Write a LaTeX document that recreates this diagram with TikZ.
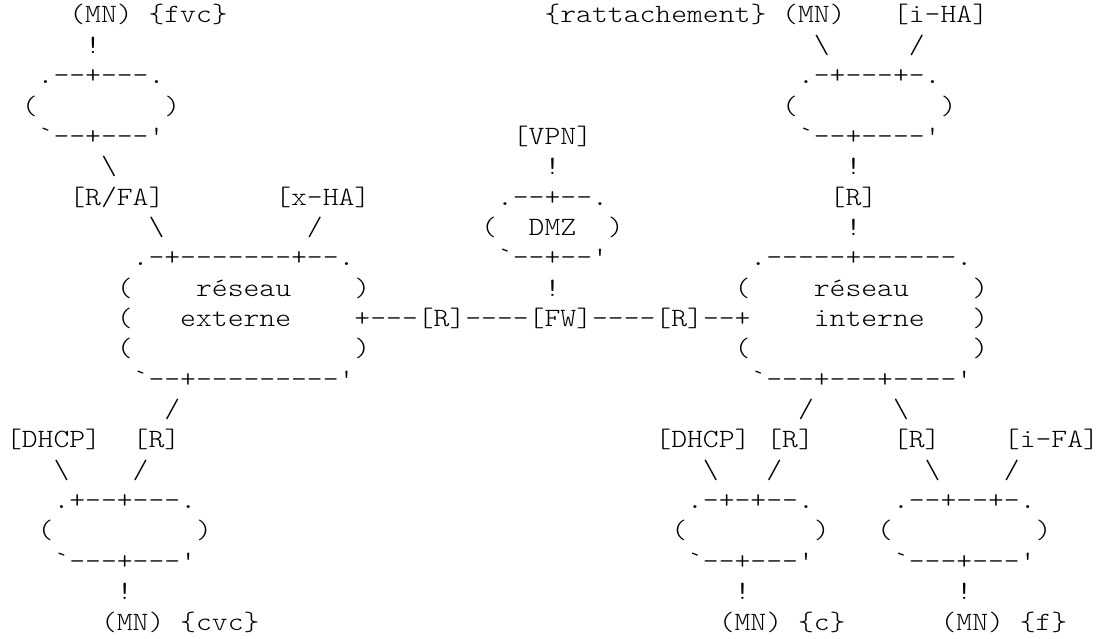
\documentclass[tikz,border=0pt]{standalone}
\usepackage{fontspec}
\setmonofont{lmmonolt10-regular.otf}[FakeStretch=1.143]
\tikzset{tok/.style={anchor=base west, inner sep=0pt, outer sep=0pt, text=black,
  font=\ttfamily\fontsize{26.4}{30}\selectfont}}
\newcommand\cw{15.84}
\newcommand\rh{30.35}
\newcommand\tk[3]{\node[tok] (t#1-#2) at ({6+#2*\cw},{-23-#1*\rh}) {#3};}
\newcommand\bs{\textbackslash}
\begin{document}
\begin{tikzpicture}[x=1pt,y=1pt]
\useasboundingbox (0,0) rectangle (1106,-639);
\fill[white] (0,0) rectangle (1106,-639);
% row 0
\tk{0}{4}{(MN)}\tk{0}{9}{\{fvc\}}\tk{0}{34}{\{rattachement\}}\tk{0}{49}{(MN)}\tk{0}{56}{[i-HA]}
% row 1
\tk{1}{5}{!}\tk{1}{51}{\bs}\tk{1}{57}{/}
% row 2
\tk{2}{2}{.--+---.}\tk{2}{50}{.-+---+-.}
% row 3
\tk{3}{1}{(}\tk{3}{10}{)}\tk{3}{49}{(}\tk{3}{59}{)}
% row 4
\tk{4}{2}{`--+---'}\tk{4}{32}{[VPN]}\tk{4}{50}{`--+----'}
% row 5
\tk{5}{6}{\bs}\tk{5}{34}{!}\tk{5}{53}{!}
% row 6
\tk{6}{4}{[R/FA]}\tk{6}{17}{[x-HA]}\tk{6}{31}{.--+--.}\tk{6}{52}{[R]}
% row 7
\tk{7}{9}{\bs}\tk{7}{19}{/}\tk{7}{30}{(}\tk{7}{33}{DMZ}\tk{7}{38}{)}\tk{7}{53}{!}
% row 8
\tk{8}{8}{.-+-------+--.}\tk{8}{31}{`--+--'}\tk{8}{47}{.-----+------.}
% row 9
\tk{9}{7}{(}\tk{9}{12}{réseau}\tk{9}{22}{)}\tk{9}{34}{!}\tk{9}{46}{(}\tk{9}{51}{réseau}\tk{9}{61}{)}
% row 10
\tk{10}{7}{(}\tk{10}{11}{externe}\tk{10}{22}{+---[R]----[FW]----[R]--+}\tk{10}{51}{interne}\tk{10}{61}{)}
% row 11
\tk{11}{7}{(}\tk{11}{22}{)}\tk{11}{46}{(}\tk{11}{61}{)}
% row 12
\tk{12}{8}{`--+---------'}\tk{12}{47}{`---+---+----'}
% row 13
\tk{13}{10}{/}\tk{13}{50}{/}\tk{13}{56}{\bs}
% row 14
\tk{14}{0}{[DHCP]}\tk{14}{8}{[R]}\tk{14}{41}{[DHCP]}\tk{14}{48}{[R]}\tk{14}{56}{[R]}\tk{14}{63}{[i-FA]}
% row 15
\tk{15}{3}{\bs}\tk{15}{8}{/}\tk{15}{44}{\bs}\tk{15}{48}{/}\tk{15}{58}{\bs}\tk{15}{63}{/}
% row 16
\tk{16}{3}{.+--+---.}\tk{16}{43}{.-+-+--.}\tk{16}{56}{.--+--+-.}
% row 17
\tk{17}{2}{(}\tk{17}{12}{)}\tk{17}{42}{(}\tk{17}{51}{)}\tk{17}{55}{(}\tk{17}{65}{)}
% row 18
\tk{18}{3}{`---+---'}\tk{18}{43}{`--+---'}\tk{18}{56}{`---+---'}
% row 19
\tk{19}{7}{!}\tk{19}{46}{!}\tk{19}{60}{!}
% row 20
\tk{20}{6}{(MN)}\tk{20}{11}{\{cvc\}}\tk{20}{45}{(MN)}\tk{20}{50}{\{c\}}\tk{20}{59}{(MN)}\tk{20}{64}{\{f\}}
\end{tikzpicture}
\end{document}
